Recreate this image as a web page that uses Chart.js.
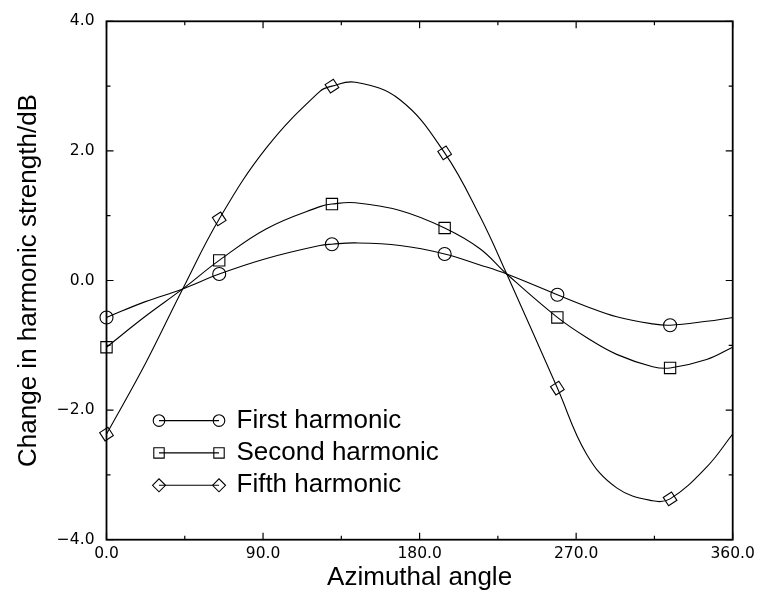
<!DOCTYPE html>
<html>
<head>
<meta charset="utf-8">
<script src="https://cdn.jsdelivr.net/npm/chart.js@4.4.0/dist/chart.umd.min.js"></script>
<style>
  html, body { margin: 0; padding: 0; background: #fff; }
  #wrap { width: 762px; height: 593px; position: relative; }
</style>
</head>
<body>
<div id="wrap"><canvas id="plot"></canvas></div>
<script>
// Measured points, azimuth in degrees, change in dB
const markerAngles = [0, 64.8, 129.6, 194.4, 259.2, 324.0];
const firstMarkers = [-0.57, 0.10, 0.56, 0.41, -0.22, -0.69];
const secondMarkers = [-1.03, 0.31, 1.18, 0.81, -0.57, -1.35];
const fifthMarkers = [-2.37, 0.95, 3.00, 1.97, -1.66, -3.37];

// Smooth fitted curves sampled along the azimuth
const curveAngles = [0, 22, 43.8, 64.8, 92, 122.7, 129.6, 143, 168.7, 194.4, 214.7, 230.1, 259.2, 276, 293.3, 314, 324, 345, 360];
const firstCurve  = [-0.57, -0.33, -0.13, 0.10, 0.34, 0.54, 0.56, 0.58, 0.54, 0.41, 0.24, 0.10, -0.22, -0.40, -0.56, -0.67, -0.69, -0.63, -0.57];
const secondCurve = [-1.03, -0.56, -0.13, 0.31, 0.80, 1.14, 1.18, 1.20, 1.08, 0.81, 0.49, 0.10, -0.57, -0.88, -1.14, -1.33, -1.35, -1.22, -1.03];
const fifthCurve  = [-2.37, -1.30, -0.13, 0.95, 2.05, 2.92, 3.00, 3.06, 2.79, 1.97, 0.99, 0.10, -1.66, -2.68, -3.20, -3.40, -3.37, -2.88, -2.37];

const seriesNames = ['First harmonic', 'Second harmonic', 'Fifth harmonic'];
const seriesStyles = ['circle', 'rect', 'rectRot'];
const xMinorTicks = [45, 135, 225, 315];
const yMinorTicks = [-3, -1, 1, 3];

const toPoints = (xs, ys) => xs.map((x, i) => ({ x: x, y: ys[i] }));

function curveSet(values) {
  return {
    data: toPoints(curveAngles, values),
    borderColor: '#000',
    borderWidth: 1.1,
    pointRadius: 0,
    tension: 0.4,
    fill: false
  };
}

function markerSet(values, style) {
  return {
    data: toPoints(markerAngles, values),
    showLine: false,
    clip: false,
    pointStyle: style,
    pointRadius: style === 'circle' ? 6.5 : (style === 'rect' ? 8 : 7),
    pointRotation: style === 'rectRot' ? 12 : 0,
    pointBorderColor: '#000',
    pointBorderWidth: 1.1,
    pointBackgroundColor: 'rgba(0,0,0,0)'
  };
}

function drawMarker(ctx, style, cx, cy) {
  ctx.beginPath();
  if (style === 'circle') {
    ctx.arc(cx, cy, 5.8, 0, Math.PI * 2);
  } else if (style === 'rect') {
    ctx.rect(cx - 5.2, cy - 5.2, 10.4, 10.4);
  } else {
    ctx.moveTo(cx - 6.5, cy);
    ctx.lineTo(cx, cy - 6.5);
    ctx.lineTo(cx + 6.5, cy);
    ctx.lineTo(cx, cy + 6.5);
    ctx.closePath();
  }
  ctx.stroke();
}

// box around the plot, inward ticks on all four sides, and the key
const framePlugin = {
  id: 'frame',
  afterDatasetsDraw(chart) {
    const { ctx, chartArea: a, scales: { x, y } } = chart;
    ctx.save();
    ctx.strokeStyle = '#000';
    ctx.lineWidth = 1.8;
    ctx.strokeRect(a.left, a.top, a.right - a.left, a.bottom - a.top);

    ctx.lineWidth = 1.2;
    ctx.beginPath();
    const xt = x.ticks.map(t => [t.value, 7]).concat(xMinorTicks.map(v => [v, 4]));
    xt.forEach(([v, len]) => {
      const px = x.getPixelForValue(v);
      ctx.moveTo(px, a.bottom); ctx.lineTo(px, a.bottom - len);
      ctx.moveTo(px, a.top); ctx.lineTo(px, a.top + len);
    });
    const yt = y.ticks.map(t => [t.value, 7]).concat(yMinorTicks.map(v => [v, 4]));
    yt.forEach(([v, len]) => {
      const py = y.getPixelForValue(v);
      ctx.moveTo(a.left, py); ctx.lineTo(a.left + len, py);
      ctx.moveTo(a.right, py); ctx.lineTo(a.right - len, py);
    });
    ctx.stroke();

    // key
    const x0 = a.left + 52.5, x1 = a.left + 112.5, tx = a.left + 130;
    const rows = [a.top + 399.3, a.top + 431.6, a.top + 464];
    ctx.lineWidth = 1.1;
    ctx.font = '26px "Liberation Sans", Arial, sans-serif';
    ctx.fillStyle = '#000';
    ctx.textBaseline = 'middle';
    ctx.textAlign = 'left';
    seriesNames.forEach((name, i) => {
      const ry = rows[i];
      ctx.beginPath();
      ctx.moveTo(x0, ry); ctx.lineTo(x1, ry);
      ctx.stroke();
      drawMarker(ctx, seriesStyles[i], x0, ry);
      drawMarker(ctx, seriesStyles[i], x1, ry);
      ctx.fillText(name, tx, ry);
    });
    ctx.restore();
  }
};

const fmt = v => (v < 0 ? '\u2212' : '') + Math.abs(v).toFixed(1);

new Chart(document.getElementById('plot'), {
  type: 'line',
  data: {
    datasets: [
      curveSet(firstCurve),
      curveSet(secondCurve),
      curveSet(fifthCurve),
      markerSet(firstMarkers, seriesStyles[0]),
      markerSet(secondMarkers, seriesStyles[1]),
      markerSet(fifthMarkers, seriesStyles[2])
    ]
  },
  options: {
    responsive: true,
    maintainAspectRatio: false,
    animation: false,
    layout: { padding: { top: 17.7, right: 29.3, bottom: 0, left: 0 } },
    plugins: { legend: { display: false }, tooltip: { enabled: false } },
    scales: {
      x: {
        type: 'linear',
        min: 0, max: 360,
        grid: { display: false, drawTicks: false },
        border: { display: false },
        ticks: {
          stepSize: 90,
          padding: 5,
          color: '#000',
          maxRotation: 0,
          font: { family: '"DejaVu Sans"', size: 15.5 },
          callback: fmt
        },
        title: {
          display: true,
          text: 'Azimuthal angle',
          color: '#000',
          font: { family: '"Liberation Sans", Arial, sans-serif', size: 26 },
          padding: { top: 0, bottom: 0 }
        },
        afterFit(scale) { scale.height = 53.3; }
      },
      y: {
        min: -4, max: 4,
        grid: { display: false, drawTicks: false },
        border: { display: false },
        ticks: {
          stepSize: 2,
          padding: 12,
          color: '#000',
          font: { family: '"DejaVu Sans"', size: 15.5 },
          callback: fmt
        },
        title: {
          display: true,
          text: 'Change in harmonic strength/dB',
          color: '#000',
          font: { family: '"Liberation Sans", Arial, sans-serif', size: 26 },
          padding: { top: 13, bottom: 0 }
        },
        afterFit(scale) { scale.width = 106.5; }
      }
    }
  },
  plugins: [framePlugin]
});
</script>
</body>
</html>
